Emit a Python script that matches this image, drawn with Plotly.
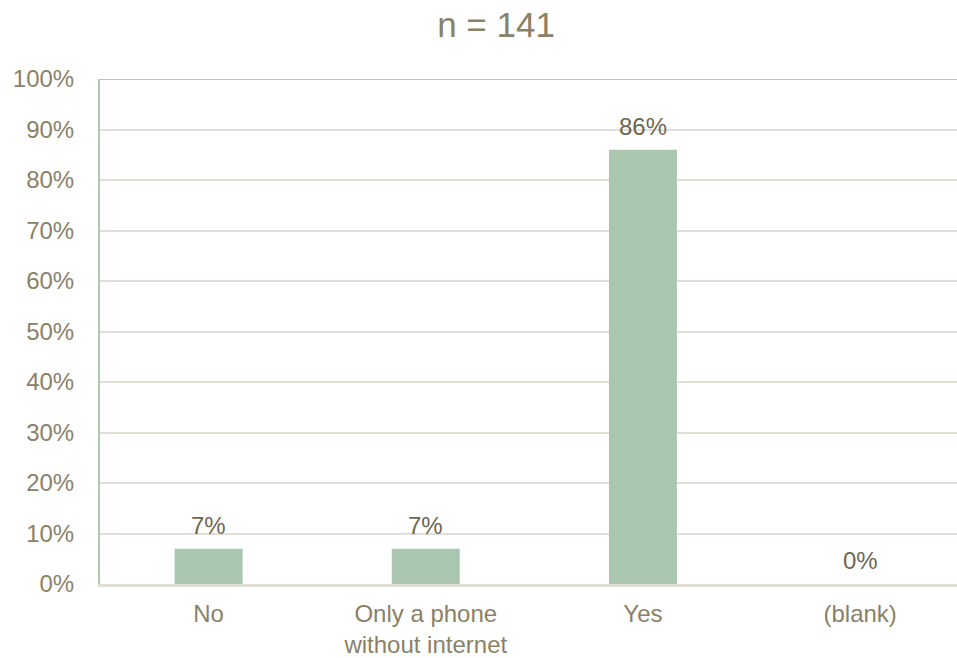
import plotly.graph_objects as go

# Survey responses (share of respondents, %)
categories = ["No", "Only a phone<br>without internet", "Yes", "(blank)"]
shares = [7, 7, 86, 0]
value_labels = ["7%", "7%", "86%", "0%"]
y_ticks = list(range(0, 101, 10))
y_tick_labels = [f"{t}%" for t in y_ticks]
title_text = "n = 141"

FONT = "Liberation Sans, Arial, sans-serif"
BAR = "#ABC6AF"
AXIS_GREEN = "#AECAB2"
GRID = "#E2E0D6"
TEXT = "#8A8168"
LABEL = "#6E6650"

W, H = 957, 658
M_L, M_R, M_T, M_B = 100, 0, 79, 69

fig = go.Figure(
    go.Bar(
        x=list(range(len(categories))),
        y=shares,
        marker=dict(color=BAR, line=dict(width=0)),
        width=0.313,
        hoverinfo="skip",
    )
)

# value labels above each bar
for i, (v, lab) in enumerate(zip(shares, value_labels)):
    fig.add_annotation(
        x=i, y=v, text=lab, showarrow=False,
        xref="x", yref="y", yanchor="bottom", yshift=8,
        font=dict(family=FONT, size=24, color=LABEL),
    )

# green border along the top of the plot area
fig.add_shape(
    type="line", xref="paper", yref="y", x0=0, x1=1, y0=100, y1=100,
    line=dict(color=AXIS_GREEN, width=2), layer="above",
)

fig.update_layout(
    width=W, height=H,
    margin=dict(l=M_L, r=M_R, t=M_T, b=M_B, pad=0),
    paper_bgcolor="white", plot_bgcolor="white",
    showlegend=False,
    title=dict(
        text=title_text, x=496 / W, xanchor="center",
        y=1 - 25 / H, yanchor="middle", yref="container", xref="container",
        font=dict(family=FONT, size=35, color=TEXT),
    ),
    xaxis=dict(
        range=[-0.5, 3.446],
        tickvals=list(range(len(categories))),
        ticktext=categories,
        showgrid=False, zeroline=False,
        showline=True, linecolor=GRID, linewidth=2.5,
        ticks="", ticklabelstandoff=6,
        tickfont=dict(family=FONT, size=24, color=TEXT),
    ),
    yaxis=dict(
        range=[0, 100],
        tickvals=y_ticks, ticktext=y_tick_labels,
        showgrid=True, gridcolor=GRID, gridwidth=2,
        zeroline=False,
        showline=True, linecolor=AXIS_GREEN, linewidth=2,
        ticks="", ticklabelstandoff=19,
        tickfont=dict(family=FONT, size=24, color=TEXT),
    ),
)

fig.write_html("out.html")
